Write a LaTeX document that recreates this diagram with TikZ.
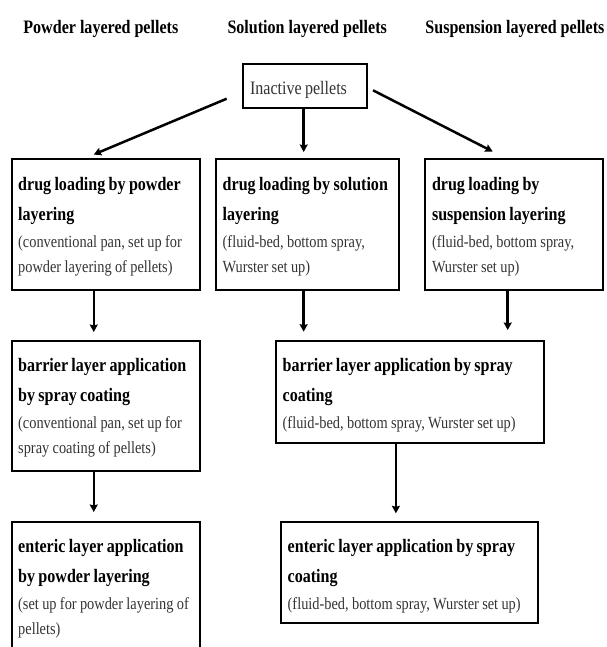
\documentclass[tikz,border=0pt]{standalone}
\usepackage{fontspec}
\setmainfont{Liberation Serif}[FakeStretch=0.845]
\usetikzlibrary{arrows.meta}
\definecolor{regtext}{HTML}{333333}
% first bold line (baseline 30.5pt below the box top)
\newcommand\LbA[1]{{\bfseries\fontsize{19}{30}\selectfont\noindent\rule{0pt}{30.5pt}\mbox{#1}\par}}
% further bold line
\newcommand\LbB[1]{{\bfseries\fontsize{19}{30}\selectfont\noindent\mbox{#1}\par}}
% first regular line, optional depth to the box bottom
\newcommand\LrA[2][0]{{\fontsize{17}{27}\selectfont\noindent\mbox{\color{regtext}#2}\rule[-#1pt]{0pt}{#1pt}\par}}
% further regular line, optional depth to the box bottom
\newcommand\LrB[2][0]{{\fontsize{17}{25}\selectfont\noindent\mbox{\color{regtext}#2}\rule[-#1pt]{0pt}{#1pt}\par}}
\begin{document}
\begin{tikzpicture}[x=1pt,y=-1pt,
  box/.style={draw=black, line width=2pt, anchor=north west,
    inner xsep=6.7pt, inner ysep=0pt, align=left},
  arr/.style={line width=2.5pt, -{Stealth[length=7.5pt,width=8pt,inset=1pt]}},
  hdr/.style={anchor=base west, inner sep=0pt, font=\bfseries\fontsize{19}{23}\selectfont}]
\useasboundingbox (0,0) rectangle (606,647);

% headers
\node[hdr] (h1) at (23.2,33.3) {Powder layered pellets};
\node[hdr] (h2) at (227.3,33.3) {Solution layered pellets};
\node[hdr] (h3) at (425.2,33.3) {Suspension layered pellets};

% inactive pellets
\node[box, inner xsep=7.3pt, text width=109.4pt, text=regtext] (ip) at (241.7,63.3)
  {\noindent\rule[-13.4pt]{0pt}{43.4pt}\fontsize{19}{23}\selectfont Inactive pellets};

% row 1
\node[box, text width=175.1pt] (b1) at (10.5,158.5)
  {\LbA{drug loading by powder}\LbB{layering}%
   \LrA{(conventional pan, set up for}\LrB[17.5]{powder layering of pellets)}};
\node[box, text width=169.9pt] (b2) at (215,158.5)
  {\LbA{drug loading by solution}\LbB{layering}%
   \LrA{(fluid-bed, bottom spray,}\LrB[17.5]{Wurster set up)}};
\node[box, text width=164pt] (b3) at (424.3,158.5)
  {\LbA{drug loading by}\LbB{suspension layering}%
   \LrA{(fluid-bed, bottom spray,}\LrB[17.5]{Wurster set up)}};

% row 2
\node[box, text width=175.1pt] (b4) at (10.5,340)
  {\LbA{barrier layer application}\LbB{by spray coating}%
   \LrA{(conventional pan, set up for}\LrB[17.5]{spray coating of pellets)}};
\node[box, text width=254.4pt] (b5) at (275,340)
  {\LbA{barrier layer application by spray}\LbB{coating}%
   \LrA[14.2]{(fluid-bed, bottom spray, Wurster set up)}};

% row 3
\node[box, text width=175.1pt] (b6) at (10.5,521)
  {\LbA{enteric layer application}\LbB{by powder layering}%
   \LrA{(set up for powder layering of}\LrB[17.5]{pellets)}};
\node[box, text width=243.3pt] (b7) at (280,520.7)
  {\LbA{enteric layer application by spray}\LbB{coating}%
   \LrA[13.5]{(fluid-bed, bottom spray, Wurster set up)}};

% connectors from inactive pellets
\draw[arr] ([xshift=-15pt,yshift=10pt]ip.south west) -- ([xshift=-12pt,yshift=4pt]b1.north);
\coordinate (c0) at ([xshift=-1pt]ip.south);
\draw[arr, shorten >=6.5pt] (c0) -- (c0 |- b2.north);
\draw[arr] ([xshift=5.3pt,yshift=-4.3pt]ip.east) -- ([xshift=-21.3pt,yshift=7pt]b3.north);

% vertical connectors
\coordinate (c1) at ([xshift=-12pt]b1.south);
\draw[arr, shorten >=8pt] (c1) -- (c1 |- b4.north);
\coordinate (c2) at ([xshift=-4pt]b2.south);
\draw[arr, shorten >=8.3pt] (c2) -- (c2 |- b5.north);
\coordinate (c3) at ([xshift=-6.3pt]b3.south);
\draw[arr, shorten >=10pt] (c3) -- (c3 |- b5.north);
\coordinate (c4) at ([xshift=-12pt]b4.south);
\draw[arr, shorten >=9pt] (c4) -- (c4 |- b6.north);
\coordinate (c5) at ([xshift=-14pt]b5.south);
\draw[arr, shorten >=7.4pt] (c5) -- (c5 |- b7.north);
\end{tikzpicture}
\end{document}
